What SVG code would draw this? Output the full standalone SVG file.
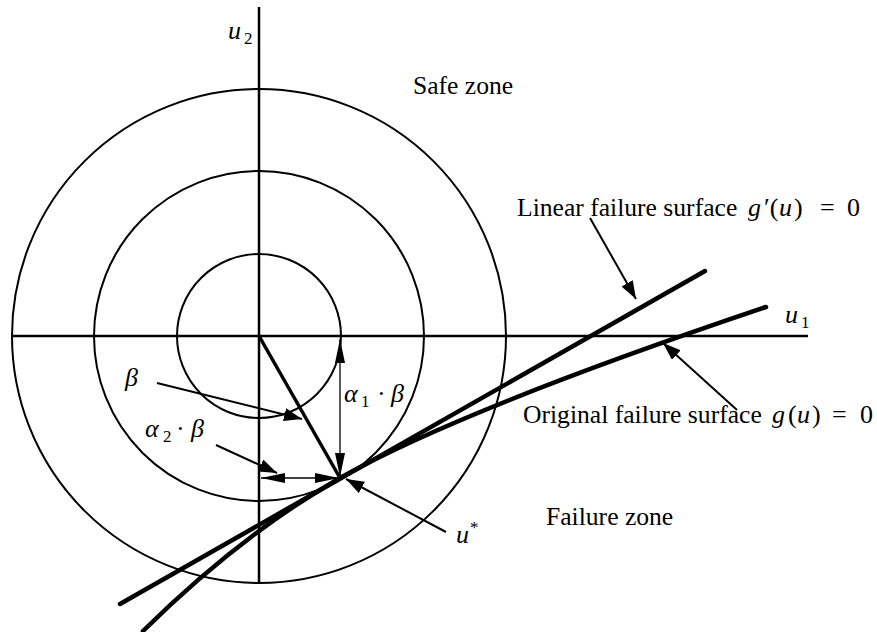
<svg xmlns="http://www.w3.org/2000/svg" width="877" height="632" viewBox="0 0 877 632">
<style>
.ax{stroke:#000;stroke-width:2.5;fill:none}
.circ{stroke:#000;stroke-width:2;fill:none}
.thick{stroke:#000;stroke-width:4.5;fill:none;stroke-linecap:round}
.vec{stroke:#000;stroke-width:3.5;fill:none}
.ptr{stroke:#000;stroke-width:2;fill:none;marker-end:url(#ah)}
.dim{stroke:#000;stroke-width:1.3;fill:none;marker-start:url(#dh);marker-end:url(#dh)}
.t{font-family:"Liberation Serif","Times New Roman",serif;font-size:25.6px;fill:#000}
.m{font-family:"Liberation Serif","Times New Roman",serif;font-size:26px;font-style:italic;fill:#000}
.s{font-family:"Liberation Serif","Times New Roman",serif;font-size:17px;font-style:normal;fill:#000}
.o{font-family:"Liberation Serif","Times New Roman",serif;font-size:26px;font-style:normal;fill:#000}
</style>
<defs>
<marker id="ah" markerUnits="userSpaceOnUse" markerWidth="20" markerHeight="14" refX="18" refY="6.5" orient="auto">
<path d="M0,0 L18,6.5 L0,13 z" fill="#000"/>
</marker>
<marker id="dh" markerUnits="userSpaceOnUse" markerWidth="26" markerHeight="12" refX="24" refY="5" orient="auto-start-reverse">
<path d="M0,0 L24,5 L0,10 z" fill="#000"/>
</marker>
</defs>
<rect width="877" height="632" fill="#fff"/>
<g id="axes">
<line class="ax" x1="12" y1="336" x2="808" y2="336"/>
<line class="ax" x1="259" y1="7" x2="259" y2="583"/>
<text class="m" x="228" y="39">u<tspan class="s" x="244" y="44">2</tspan></text>
<text class="m" x="785" y="323">u<tspan class="s" x="801" y="328">1</tspan></text>
</g>
<g id="circles">
<circle class="circ" cx="259" cy="336" r="82"/>
<circle class="circ" cx="259" cy="336" r="165"/>
<circle class="circ" cx="259" cy="336" r="247"/>
</g>
<g id="safe-zone"><text class="t" x="413" y="94">Safe zone</text></g>
<g id="failure-zone"><text class="t" x="546" y="525">Failure zone</text></g>
<g id="linear-surface">
<line class="thick" x1="120" y1="604" x2="705" y2="271"/>
<text class="t" x="517" y="216">Linear failure surface<tspan class="m" x="748">g</tspan><tspan class="o" x="764">′(</tspan><tspan class="m" x="779">u</tspan><tspan class="o" x="794">)</tspan><tspan class="o" x="820">=</tspan><tspan class="o" x="847">0</tspan></text>
</g>
<g id="original-surface">
<path class="thick" d="M143,631 Q241.5,534.1 340,478 C440,421 616,357.5 766,307"/>
<text class="t" x="523" y="423">Original failure surface<tspan class="m" x="772">g</tspan><tspan class="o" x="788">(</tspan><tspan class="m" x="797">u</tspan><tspan class="o" x="812">)</tspan><tspan class="o" x="832">=</tspan><tspan class="o" x="860">0</tspan></text>
</g>
<g id="beta-vector">
<line class="vec" x1="259" y1="336" x2="340" y2="478"/>
<text class="m" x="125" y="386">β</text>
</g>
<g id="alpha1">
<text class="m" x="344" y="402">α<tspan class="s" x="361" y="407">1</tspan><tspan class="o" x="377" y="402">·</tspan><tspan class="m" x="391" y="402">β</tspan></text>
</g>
<g id="alpha2">
<text class="m" x="145" y="437">α<tspan class="s" x="163" y="442">2</tspan><tspan class="o" x="176" y="437">·</tspan><tspan class="m" x="191" y="437">β</tspan></text>
</g>
<g id="u-star">
<text class="m" x="456" y="543">u<tspan class="s" x="470" y="533">*</tspan></text>
</g>
<g id="connectors">
<line class="dim" x1="340" y1="339" x2="340" y2="477"/>
<line class="dim" x1="261" y1="478" x2="339" y2="478"/>
<line class="ptr" x1="157" y1="383" x2="302" y2="419"/>
<line class="ptr" x1="216" y1="445" x2="277" y2="473"/>
<line class="ptr" x1="446" y1="532" x2="346" y2="479"/>
<line class="ptr" x1="590" y1="218" x2="636" y2="299"/>
<line class="ptr" x1="737" y1="410" x2="663" y2="343"/>
</g>
</svg>
